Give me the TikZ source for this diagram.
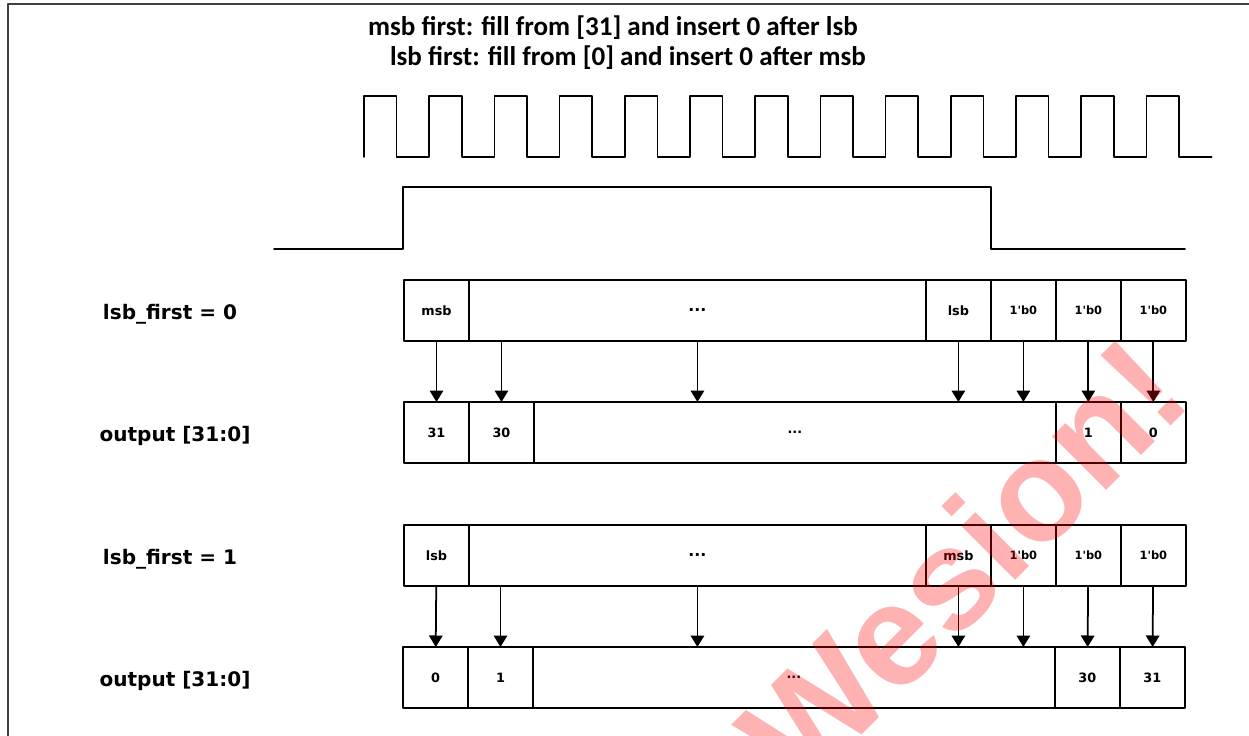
\documentclass[tikz,border=0pt]{standalone}
\usepackage{fontspec}
\setmainfont{Carlito}
\newfontfamily\cellfont{DejaVu Sans}
\newfontfamily\markfont{Liberation Sans}
\usetikzlibrary{positioning,arrows.meta}

\tikzset{
  cell/.style={draw,line width=1pt,outer sep=0pt,inner sep=0pt,minimum width=1.3cm,minimum height=1.22cm,
    font=\cellfont\bfseries\fontsize{7.3}{8}\selectfont},
  zero/.style={font=\cellfont\bfseries\fontsize{6.5}{7}\selectfont},
  bigdots/.style={font=\cellfont\bfseries\fontsize{9}{10}\selectfont},
  rowlabel/.style={anchor=base,inner sep=0pt,font=\cellfont\bfseries\fontsize{11.4}{13}\selectfont},
  title/.style={anchor=base,inner sep=0pt,font=\bfseries\fontsize{15.4}{17}\selectfont},
  map/.style={-{Triangle[width=0.27cm,length=0.23cm]},line width=1pt}
}

\begin{document}
\begin{tikzpicture}[x=0.02cm,y=-0.02cm,line cap=round,line join=round]
  \useasboundingbox (0,0) rectangle (1249,736);
  % frame
  \draw[line width=1pt,black!75] (8,736) -- (8,4) -- (1249,4);

  % heading
  \node[title] (head1) at (613,36) {msb first: fill from [31] and insert 0 after lsb};
  \node[title] (head2) at (628,66) {lsb first: fill from [0] and insert 0 after msb};

  % clock
  \draw[line width=1pt] (364,157)
    foreach \i in {0,...,12} { -- ++(0,-61) -- ++(32.6,0) -- ++(0,61) -- ++(32.6,0) };
  % valid
  \draw[line width=1pt] (274,249) -- (403,249) -- (403,187) -- (991,187) -- (991,249) -- (1185,249);

  % lsb_first = 0
  \node[rowlabel] (lbl0) at (170,320) {lsb\_first = 0};
  \node[cell,anchor=west] (amsb) at (404,310.5) {msb};
  \node[cell,bigdots,minimum width=9.14cm,right=0pt of amsb] (adots) {...};
  \node[cell,right=0pt of adots] (alsb) {lsb};
  \node[cell,zero,right=0pt of alsb] (az1) {1'b0};
  \node[cell,zero,right=0pt of az1] (az2) {1'b0};
  \node[cell,zero,right=0pt of az2] (az3) {1'b0};

  \node[rowlabel] (out0) at (175,442) {output [31:0]};
  \node[cell,anchor=west] (b31) at (404,432.5) {31};
  \node[cell,right=0pt of b31] (b30) {30};
  \node[cell,minimum width=10.44cm,right=0pt of b30] (bdots) {...};
  \node[cell,right=0pt of bdots] (b1) {1};
  \node[cell,right=0pt of b1] (b0) {0};

  \draw[map] (amsb) -- (b31);
  \draw[map] (adots.south -| b30) -- (b30);
  \draw[map] (adots) -- (adots |- bdots.north);
  \draw[map] (alsb) -- (alsb |- bdots.north);
  \draw[map] (az1) -- (az1 |- bdots.north);
  \draw[map] (az2) -- (b1);
  \draw[map] (az3) -- (b0);

  % lsb_first = 1
  \node[rowlabel] (lbl1) at (170,565) {lsb\_first = 1};
  \node[cell,anchor=west] (clsb) at (404,555.5) {lsb};
  \node[cell,bigdots,minimum width=9.14cm,right=0pt of clsb] (cdots) {...};
  \node[cell,right=0pt of cdots] (cmsb) {msb};
  \node[cell,zero,right=0pt of cmsb] (cz1) {1'b0};
  \node[cell,zero,right=0pt of cz1] (cz2) {1'b0};
  \node[cell,zero,right=0pt of cz2] (cz3) {1'b0};

  \node[rowlabel] (out1) at (175,687) {output [31:0]};
  \node[cell,anchor=west] (d0) at (403,677.5) {0};
  \node[cell,right=0pt of d0] (d1) {1};
  \node[cell,minimum width=10.44cm,right=0pt of d1] (ddots) {...};
  \node[cell,right=0pt of ddots] (d30) {30};
  \node[cell,right=0pt of d30] (d31) {31};

  \draw[map] (clsb) -- (d0);
  \draw[map] (cdots.south -| d1) -- (d1);
  \draw[map] (cdots) -- (cdots |- ddots.north);
  \draw[map] (cmsb) -- (cmsb |- ddots.north);
  \draw[map] (cz1) -- (cz1 |- ddots.north);
  \draw[map] (cz2) -- (d30);
  \draw[map] (cz3) -- (d31);

  % watermark
  \node[rotate=45,text=red,opacity=0.3,font=\markfont\bfseries\fontsize{82}{82}\selectfont] (mark) at (962,562) {Wesion!};
\end{tikzpicture}
\end{document}
